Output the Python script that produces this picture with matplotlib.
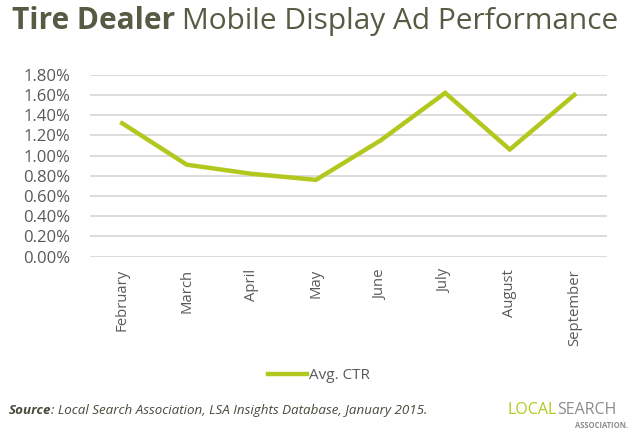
import matplotlib.pyplot as plt
from matplotlib.ticker import FuncFormatter, MultipleLocator

plt.rcParams['font.family'] = ['Open Sans', 'DejaVu Sans']

months = ['February', 'March', 'April', 'May', 'June', 'July', 'August', 'September']
ctr = [1.32, 0.91, 0.82, 0.76, 1.15, 1.62, 1.06, 1.60]

green = '#b3c81e'
gray = '#595959'
title_col = '#585a44'

fig = plt.figure(figsize=(6.42, 4.34), dpi=100)
ax = fig.add_axes([0.140, 0.4085, 0.805, 0.4194])

x = range(len(months))
line, = ax.plot(x, ctr, color=green, linewidth=3.2, solid_joinstyle='miter', label='Avg. CTR')

ax.set_xlim(-0.5, len(months) - 0.5)
ax.set_ylim(0, 1.8)
ax.yaxis.set_major_locator(MultipleLocator(0.2))
ax.yaxis.set_major_formatter(FuncFormatter(lambda v, p: '%.2f%%' % v))
ax.set_xticks(list(x))
ax.set_xticklabels(months, rotation=90)
ax.grid(axis='y', color='#d9d9d9', linewidth=1.3)
ax.set_axisbelow(True)
for s in ax.spines.values():
    s.set_visible(False)
ax.tick_params(axis='both', length=0, colors=gray)
ax.tick_params(axis='y', pad=14, labelsize=12)
ax.tick_params(axis='x', pad=9, labelsize=10.7)

fig.legend(handles=[line], loc='center', bbox_to_anchor=(0.497, 0.134), frameon=False,
           fontsize=11, handlelength=2.5, handletextpad=0.15, labelcolor=gray)

renderer = fig.canvas.get_renderer()
W = fig.bbox.width


def after(t, gap=0.0):
    bb = t.get_window_extent(renderer)
    return bb.x1 / W + gap


t1 = fig.text(0.019, 0.933, 'Tire Dealer', fontsize=21.5, fontweight='bold', color=title_col)
fig.text(after(t1, 0.011), 0.933, 'Mobile Display Ad Performance', fontsize=21.5, color=title_col)

s1 = fig.text(0.013, 0.055, 'Source', fontsize=9.6, fontstyle='italic', fontweight='bold',
              color='#4a4a3a', va='center')
fig.text(after(s1), 0.055, ': Local Search Association, LSA Insights Database, January 2015.',
         fontsize=9.6, fontstyle='italic', color='#4a4a3a', va='center')

l1 = fig.text(0.791, 0.055, 'LOCAL', fontsize=11.5, color=green, va='center')
fig.text(after(l1), 0.055, 'SEARCH', fontsize=11.5, color='#8c8c8c', va='center')
fig.text(0.978, 0.02, 'ASSOCIATION.', fontsize=5.5, color='#8c8c8c', va='center', ha='right',
         fontweight='bold')

fig.savefig('out.png', dpi=100)
